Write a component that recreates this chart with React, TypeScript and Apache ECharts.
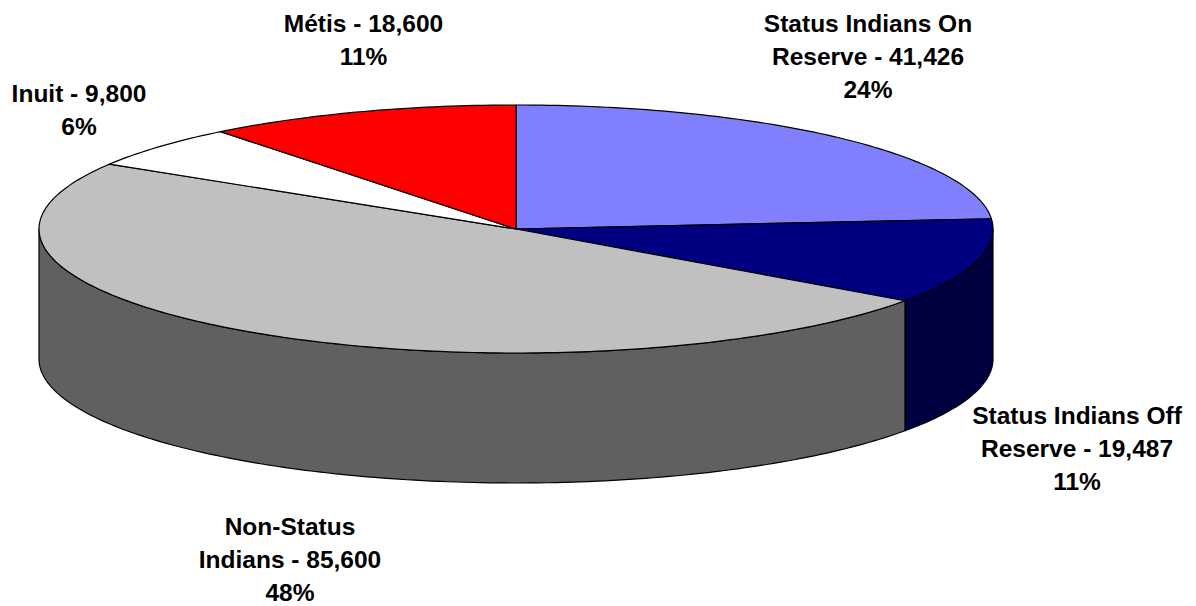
import React, { useEffect, useRef } from "react";
import * as echarts from "echarts";

const categories = ["Status Indians On Reserve", "Status Indians Off Reserve", "Non-Status Indians", "Inuit", "Métis"];
const values = [41426, 19487, 85600, 9800, 18600];
const labelLines = [
  ["Status Indians On", "Reserve - 41,426", "24%"],
  ["Status Indians Off", "Reserve - 19,487", "11%"],
  ["Non-Status", "Indians - 85,600", "48%"],
  ["Inuit - 9,800", "6%"],
  ["Métis - 18,600", "11%"],
];
const topColors = ["#8080FF", "#000080", "#C0C0C0", "#FFFFFF", "#FF0000"];
const sideColors = ["#404080", "#000040", "#606060", "#808080", "#800000"];
const labelCenters = [[868, 56], [1077, 448], [290, 559], [79, 110], [363.5, 39.5]];

const CX = 516, CY = 229, RX = 477, RY = 124, DEPTH = 130;
const total = values.reduce((a, b) => a + b, 0);

const pt = (deg: number, dy = 0) => {
  const r = (deg * Math.PI) / 180;
  return [CX + RX * Math.sin(r), CY - RY * Math.cos(r) + dy];
};
const arc = (a0: number, a1: number, dy = 0) => {
  const n = Math.max(2, Math.ceil(Math.abs(a1 - a0)));
  const out: number[][] = [];
  for (let i = 0; i <= n; i++) out.push(pt(a0 + ((a1 - a0) * i) / n, dy));
  return out;
};

const renderItem = (params: any, api: any) => {
  const i = params.dataIndex;
  let before = 0;
  for (let k = 0; k < i; k++) before += values[k];
  const a0 = (before / total) * 360;
  const a1 = a0 + (api.value(0) / total) * 360;
  const children: any[] = [];
  const s0 = Math.max(a0, 90), s1 = Math.min(a1, 270);
  if (s1 > s0) {
    children.push({
      type: "polygon",
      z2: 1,
      shape: { points: [...arc(s0, s1), ...arc(s1, s0, DEPTH)] },
      style: { fill: sideColors[i], stroke: "#000", lineWidth: 1.2, lineJoin: "round" },
    });
  }
  children.push({
    type: "polygon",
    z2: 2,
    shape: { points: [[CX, CY], ...arc(a0, a1)] },
    style: { fill: topColors[i], stroke: "#000", lineWidth: 1.2, lineJoin: "round" },
  });
  children.push({
    type: "text",
    z2: 3,
    x: labelCenters[i][0],
    y: labelCenters[i][1],
    style: {
      text: labelLines[i].join("\n"),
      fill: "#000",
      font: 'bold 24.5px "Liberation Sans", Arial, sans-serif',
      lineHeight: 33,
      align: "center",
      verticalAlign: "middle",
    },
  });
  return { type: "group", children };
};

export default function App() {
  const ref = useRef<HTMLDivElement>(null);
  useEffect(() => {
    document.body.style.margin = "0";
    const chart = echarts.init(ref.current!, undefined, { renderer: "svg" });
    chart.setOption({
      animation: false,
      backgroundColor: "#fff",
      series: [
        {
          type: "custom",
          coordinateSystem: "none",
          clip: false,
          renderItem,
          data: values.map((v, i) => ({ name: categories[i], value: [v] })),
        },
      ],
    });
    return () => chart.dispose();
  }, []);
  return <div ref={ref} style={{ width: 1196, height: 606 }} />;
}
